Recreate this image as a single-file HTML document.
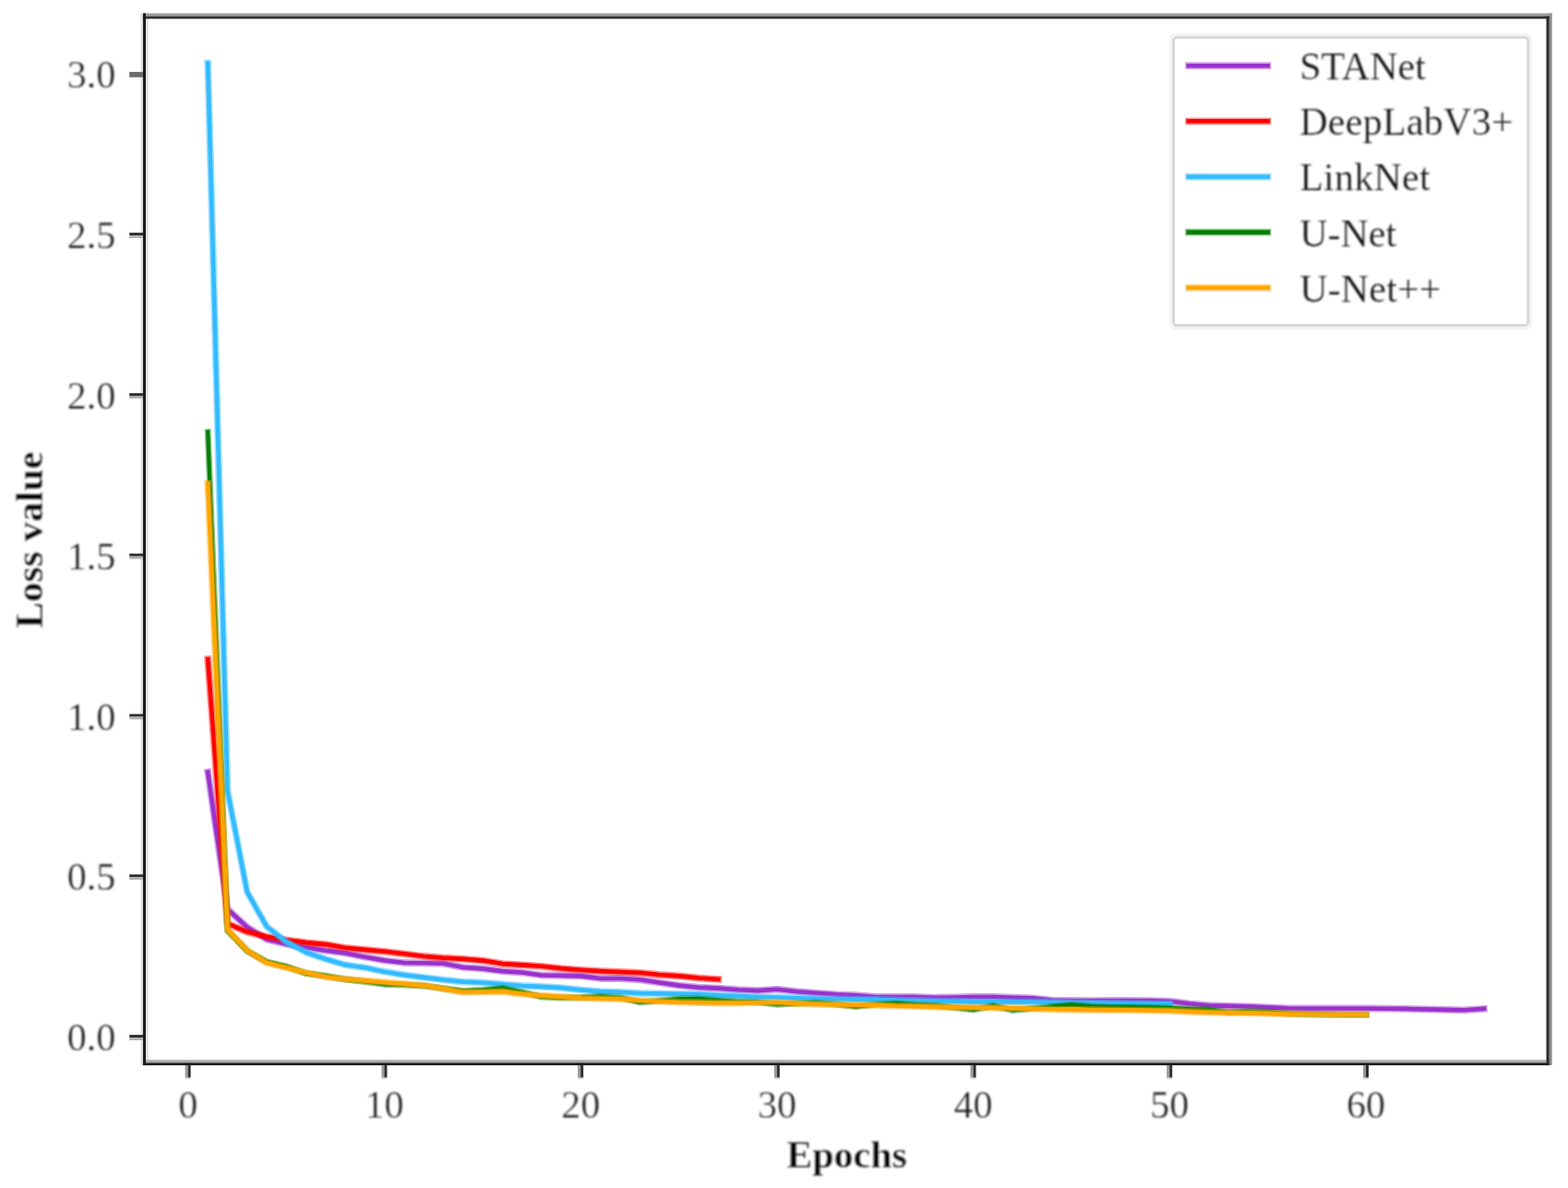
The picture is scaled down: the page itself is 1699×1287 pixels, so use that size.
<!DOCTYPE html>
<html lang="en">
<head>
<meta charset="utf-8">
<title>Loss value vs. Epochs</title>
<style>
html,body{margin:0;padding:0;background:#fff;}
body{width:1699px;height:1287px;overflow:hidden;}
svg{display:block;}
text{font-family:"Liberation Serif", "DejaVu Serif", serif;fill:#0e0e0e;font-kerning:normal;stroke:#fff;stroke-width:0.25px;}
.tick{font-size:42px;}
.lab{font-size:42px;font-weight:bold;fill:#000;stroke-width:0.3px;}
.leg{font-size:42px;fill:#0c0c0c;stroke-width:0.15px;}
</style>
</head>
<body>
<svg width="1699" height="1287" viewBox="0 0 1699 1287">
<defs>
<filter id="softt" filterUnits="userSpaceOnUse" x="0" y="0" width="1699" height="1287"><feGaussianBlur stdDeviation="1.0"/></filter>
</defs>
<rect x="0" y="0" width="1699" height="1287" fill="#ffffff"/>
<g fill="none" stroke-linejoin="round" stroke-linecap="square">
<polyline stroke="#9932cc" stroke-opacity="0.45" stroke-width="7.8" points="225.2,836.5 246.5,984.9 267.8,1004.4 289.0,1017.6 310.3,1022.8 331.6,1026.3 352.9,1029.7 374.1,1032.5 395.4,1036.7 416.7,1040.5 437.9,1043.0 459.2,1043.3 480.5,1043.8 501.8,1048.0 523.0,1049.4 544.3,1052.1 565.6,1053.5 586.8,1056.5 608.1,1056.9 629.4,1057.4 650.7,1060.0 671.9,1060.0 693.2,1061.3 714.5,1064.5 735.8,1067.6 757.0,1069.7 778.3,1070.6 799.6,1072.2 820.8,1073.1 842.1,1071.7 863.4,1074.2 884.7,1075.8 905.9,1077.4 927.2,1078.2 948.5,1080.0 969.7,1080.0 991.0,1080.0 1012.3,1080.8 1033.6,1080.5 1054.8,1080.0 1076.1,1080.0 1097.4,1080.7 1118.6,1081.4 1139.9,1083.6 1161.2,1084.0 1182.5,1084.1 1203.7,1084.0 1225.0,1084.0 1246.3,1084.1 1267.5,1084.7 1288.8,1087.3 1310.1,1089.2 1331.4,1089.9 1352.6,1090.3 1373.9,1091.4 1395.2,1092.3 1416.5,1092.5 1437.7,1092.5 1459.0,1092.5 1480.3,1092.5 1501.5,1092.7 1522.8,1092.9 1544.1,1093.4 1565.4,1093.9 1586.6,1094.3 1607.9,1092.8"/>
<polyline stroke="#9932cc" stroke-width="4.6" points="225.2,836.5 246.5,984.9 267.8,1004.4 289.0,1017.6 310.3,1022.8 331.6,1026.3 352.9,1029.7 374.1,1032.5 395.4,1036.7 416.7,1040.5 437.9,1043.0 459.2,1043.3 480.5,1043.8 501.8,1048.0 523.0,1049.4 544.3,1052.1 565.6,1053.5 586.8,1056.5 608.1,1056.9 629.4,1057.4 650.7,1060.0 671.9,1060.0 693.2,1061.3 714.5,1064.5 735.8,1067.6 757.0,1069.7 778.3,1070.6 799.6,1072.2 820.8,1073.1 842.1,1071.7 863.4,1074.2 884.7,1075.8 905.9,1077.4 927.2,1078.2 948.5,1080.0 969.7,1080.0 991.0,1080.0 1012.3,1080.8 1033.6,1080.5 1054.8,1080.0 1076.1,1080.0 1097.4,1080.7 1118.6,1081.4 1139.9,1083.6 1161.2,1084.0 1182.5,1084.1 1203.7,1084.0 1225.0,1084.0 1246.3,1084.1 1267.5,1084.7 1288.8,1087.3 1310.1,1089.2 1331.4,1089.9 1352.6,1090.3 1373.9,1091.4 1395.2,1092.3 1416.5,1092.5 1437.7,1092.5 1459.0,1092.5 1480.3,1092.5 1501.5,1092.7 1522.8,1092.9 1544.1,1093.4 1565.4,1093.9 1586.6,1094.3 1607.9,1092.8"/>
<polyline stroke="#ff0000" stroke-opacity="0.45" stroke-width="7.8" points="225.2,714.1 246.5,1000.5 267.8,1009.6 289.0,1014.8 310.3,1018.3 331.6,1021.1 352.9,1023.1 374.1,1026.8 395.4,1028.9 416.7,1030.8 437.9,1033.3 459.2,1036.0 480.5,1037.7 501.8,1038.9 523.0,1040.6 544.3,1044.1 565.6,1045.4 586.8,1046.8 608.1,1049.1 629.4,1050.8 650.7,1052.1 671.9,1053.0 693.2,1053.8 714.5,1056.0 735.8,1057.4 757.0,1059.5 778.3,1060.9"/>
<polyline stroke="#ff0000" stroke-width="4.6" points="225.2,714.1 246.5,1000.5 267.8,1009.6 289.0,1014.8 310.3,1018.3 331.6,1021.1 352.9,1023.1 374.1,1026.8 395.4,1028.9 416.7,1030.8 437.9,1033.3 459.2,1036.0 480.5,1037.7 501.8,1038.9 523.0,1040.6 544.3,1044.1 565.6,1045.4 586.8,1046.8 608.1,1049.1 629.4,1050.8 650.7,1052.1 671.9,1053.0 693.2,1053.8 714.5,1056.0 735.8,1057.4 757.0,1059.5 778.3,1060.9"/>
<polyline stroke="#33bbff" stroke-opacity="0.45" stroke-width="7.8" points="225.2,68.6 246.5,856.6 267.8,966.3 289.0,1003.7 310.3,1020.4 331.6,1031.8 352.9,1039.0 374.1,1045.2 395.4,1048.3 416.7,1052.7 437.9,1056.2 459.2,1058.9 480.5,1061.5 501.8,1063.6 523.0,1064.5 544.3,1066.2 565.6,1068.0 586.8,1068.9 608.1,1070.1 629.4,1072.4 650.7,1074.1 671.9,1074.9 693.2,1076.0 714.5,1076.4 735.8,1076.8 757.0,1077.1 778.3,1078.2 799.6,1079.1 820.8,1080.0 842.1,1080.5 863.4,1081.2 884.7,1081.7 905.9,1082.2 927.2,1082.6 948.5,1082.9 969.7,1083.5 991.0,1084.0 1012.3,1084.4 1033.6,1084.7 1054.8,1085.4 1076.1,1085.4 1097.4,1085.4 1118.6,1085.5 1139.9,1085.7 1161.2,1086.2 1182.5,1086.4 1203.7,1086.8 1225.0,1087.1 1246.3,1087.3 1267.5,1087.4"/>
<polyline stroke="#33bbff" stroke-width="4.6" points="225.2,68.6 246.5,856.6 267.8,966.3 289.0,1003.7 310.3,1020.4 331.6,1031.8 352.9,1039.0 374.1,1045.2 395.4,1048.3 416.7,1052.7 437.9,1056.2 459.2,1058.9 480.5,1061.5 501.8,1063.6 523.0,1064.5 544.3,1066.2 565.6,1068.0 586.8,1068.9 608.1,1070.1 629.4,1072.4 650.7,1074.1 671.9,1074.9 693.2,1076.0 714.5,1076.4 735.8,1076.8 757.0,1077.1 778.3,1078.2 799.6,1079.1 820.8,1080.0 842.1,1080.5 863.4,1081.2 884.7,1081.7 905.9,1082.2 927.2,1082.6 948.5,1082.9 969.7,1083.5 991.0,1084.0 1012.3,1084.4 1033.6,1084.7 1054.8,1085.4 1076.1,1085.4 1097.4,1085.4 1118.6,1085.5 1139.9,1085.7 1161.2,1086.2 1182.5,1086.4 1203.7,1086.8 1225.0,1087.1 1246.3,1087.3 1267.5,1087.4"/>
<polyline stroke="#008000" stroke-opacity="0.45" stroke-width="7.0" points="225.2,468.0 246.5,1008.2 267.8,1030.3 289.0,1041.8 310.3,1046.8 331.6,1054.6 352.9,1057.1 374.1,1061.0 395.4,1063.5 416.7,1066.4 437.9,1067.0 459.2,1067.9 480.5,1070.8 501.8,1073.4 523.0,1072.4 544.3,1070.3 565.6,1074.7 586.8,1080.0 608.1,1080.9 629.4,1080.5 650.7,1079.2 671.9,1080.7 693.2,1085.9 714.5,1084.0 735.8,1082.1 757.0,1081.8 778.3,1083.6 799.6,1085.1 820.8,1085.5 842.1,1088.2 863.4,1087.1 884.7,1086.2 905.9,1088.0 927.2,1090.6 948.5,1088.1 969.7,1086.9 991.0,1088.4 1012.3,1089.2 1033.6,1091.4 1054.8,1094.0 1076.1,1089.4 1097.4,1094.5 1118.6,1092.4 1139.9,1090.4 1161.2,1088.4 1182.5,1090.3 1203.7,1090.9 1225.0,1090.9 1246.3,1091.2 1267.5,1091.9 1288.8,1093.0 1310.1,1093.6 1331.4,1096.6 1352.6,1095.6 1373.9,1096.2 1395.2,1098.0 1416.5,1098.6 1437.7,1098.9 1459.0,1099.2 1480.3,1099.3"/>
<polyline stroke="#008000" stroke-width="4.1" points="225.2,468.0 246.5,1008.2 267.8,1030.3 289.0,1041.8 310.3,1046.8 331.6,1054.6 352.9,1057.1 374.1,1061.0 395.4,1063.5 416.7,1066.4 437.9,1067.0 459.2,1067.9 480.5,1070.8 501.8,1073.4 523.0,1072.4 544.3,1070.3 565.6,1074.7 586.8,1080.0 608.1,1080.9 629.4,1080.5 650.7,1079.2 671.9,1080.7 693.2,1085.9 714.5,1084.0 735.8,1082.1 757.0,1081.8 778.3,1083.6 799.6,1085.1 820.8,1085.5 842.1,1088.2 863.4,1087.1 884.7,1086.2 905.9,1088.0 927.2,1090.6 948.5,1088.1 969.7,1086.9 991.0,1088.4 1012.3,1089.2 1033.6,1091.4 1054.8,1094.0 1076.1,1089.4 1097.4,1094.5 1118.6,1092.4 1139.9,1090.4 1161.2,1088.4 1182.5,1090.3 1203.7,1090.9 1225.0,1090.9 1246.3,1091.2 1267.5,1091.9 1288.8,1093.0 1310.1,1093.6 1331.4,1096.6 1352.6,1095.6 1373.9,1096.2 1395.2,1098.0 1416.5,1098.6 1437.7,1098.9 1459.0,1099.2 1480.3,1099.3"/>
<polyline stroke="#ffa500" stroke-opacity="0.45" stroke-width="7.8" points="225.2,524.0 246.5,1007.2 267.8,1029.7 289.0,1043.0 310.3,1048.2 331.6,1053.7 352.9,1058.3 374.1,1060.7 395.4,1062.4 416.7,1064.2 437.9,1065.9 459.2,1067.6 480.5,1071.1 501.8,1074.9 523.0,1074.7 544.3,1074.1 565.6,1076.8 586.8,1078.6 608.1,1079.9 629.4,1081.2 650.7,1081.7 671.9,1082.1 693.2,1083.8 714.5,1084.7 735.8,1085.7 757.0,1086.1 778.3,1086.5 799.6,1086.5 820.8,1086.2 842.1,1085.8 863.4,1087.1 884.7,1087.9 905.9,1088.3 927.2,1088.8 948.5,1088.8 969.7,1089.7 991.0,1090.1 1012.3,1090.6 1033.6,1091.1 1054.8,1091.4 1076.1,1091.9 1097.4,1092.2 1118.6,1092.7 1139.9,1093.3 1161.2,1093.8 1182.5,1094.0 1203.7,1094.1 1225.0,1094.3 1246.3,1094.6 1267.5,1094.9 1288.8,1096.0 1310.1,1096.7 1331.4,1097.1 1352.6,1097.4 1373.9,1097.9 1395.2,1098.5 1416.5,1098.8 1437.7,1099.0 1459.0,1099.0 1480.3,1099.0"/>
<polyline stroke="#ffa500" stroke-width="4.6" points="225.2,524.0 246.5,1007.2 267.8,1029.7 289.0,1043.0 310.3,1048.2 331.6,1053.7 352.9,1058.3 374.1,1060.7 395.4,1062.4 416.7,1064.2 437.9,1065.9 459.2,1067.6 480.5,1071.1 501.8,1074.9 523.0,1074.7 544.3,1074.1 565.6,1076.8 586.8,1078.6 608.1,1079.9 629.4,1081.2 650.7,1081.7 671.9,1082.1 693.2,1083.8 714.5,1084.7 735.8,1085.7 757.0,1086.1 778.3,1086.5 799.6,1086.5 820.8,1086.2 842.1,1085.8 863.4,1087.1 884.7,1087.9 905.9,1088.3 927.2,1088.8 948.5,1088.8 969.7,1089.7 991.0,1090.1 1012.3,1090.6 1033.6,1091.1 1054.8,1091.4 1076.1,1091.9 1097.4,1092.2 1118.6,1092.7 1139.9,1093.3 1161.2,1093.8 1182.5,1094.0 1203.7,1094.1 1225.0,1094.3 1246.3,1094.6 1267.5,1094.9 1288.8,1096.0 1310.1,1096.7 1331.4,1097.1 1352.6,1097.4 1373.9,1097.9 1395.2,1098.5 1416.5,1098.8 1437.7,1099.0 1459.0,1099.0 1480.3,1099.0"/>
</g>
<g>
<rect x="152.2" y="14.4" width="2.7" height="1139.6" fill="#e4e4e4"/>
<rect x="158" y="20.4" width="3" height="1128" fill="#e4e4e4"/>
<rect x="1678.7" y="14.4" width="2.9" height="1139.6" fill="#8a8a8a"/>
<rect x="154.9" y="14.4" width="1526.7" height="3.1" fill="#9c9c9c"/>
<rect x="158" y="1148.2" width="1517.5" height="3.1" fill="#ababab"/>
<rect x="154.9" y="17.5" width="1523.8" height="2.9" fill="#303030"/>
<rect x="154.9" y="1151.3" width="1523.8" height="2.8" fill="#1c1c1c"/>
<rect x="154.9" y="14.4" width="3.1" height="1139.7" fill="#1c1c1c"/>
<rect x="1675.5" y="17.5" width="3.2" height="1136.6" fill="#2c2c2c"/>
</g>
<g>
<rect x="200.6" y="1154" width="3" height="13.5" fill="#9a9a9a"/>
<rect x="203.6" y="1154" width="3" height="13.5" fill="#2e2e2e"/>
<rect x="200.6" y="1167.5" width="6" height="1.6" fill="#d0d0d0"/>
<rect x="413.4" y="1154" width="3" height="13.5" fill="#9a9a9a"/>
<rect x="416.4" y="1154" width="3" height="13.5" fill="#2e2e2e"/>
<rect x="413.4" y="1167.5" width="6" height="1.6" fill="#d0d0d0"/>
<rect x="626.1" y="1154" width="3" height="13.5" fill="#9a9a9a"/>
<rect x="629.1" y="1154" width="3" height="13.5" fill="#2e2e2e"/>
<rect x="626.1" y="1167.5" width="6" height="1.6" fill="#d0d0d0"/>
<rect x="838.8" y="1154" width="3" height="13.5" fill="#9a9a9a"/>
<rect x="841.8" y="1154" width="3" height="13.5" fill="#2e2e2e"/>
<rect x="838.8" y="1167.5" width="6" height="1.6" fill="#d0d0d0"/>
<rect x="1051.5" y="1154" width="3" height="13.5" fill="#9a9a9a"/>
<rect x="1054.5" y="1154" width="3" height="13.5" fill="#2e2e2e"/>
<rect x="1051.5" y="1167.5" width="6" height="1.6" fill="#d0d0d0"/>
<rect x="1264.2" y="1154" width="3" height="13.5" fill="#9a9a9a"/>
<rect x="1267.2" y="1154" width="3" height="13.5" fill="#2e2e2e"/>
<rect x="1264.2" y="1167.5" width="6" height="1.6" fill="#d0d0d0"/>
<rect x="1477.0" y="1154" width="3" height="13.5" fill="#9a9a9a"/>
<rect x="1480.0" y="1154" width="3" height="13.5" fill="#2e2e2e"/>
<rect x="1477.0" y="1167.5" width="6" height="1.6" fill="#d0d0d0"/>
<rect x="140.2" y="1121.1" width="14.8" height="3" fill="#2e2e2e"/>
<rect x="140.2" y="1124.1" width="14.8" height="2.8" fill="#b0b0b0"/>
<rect x="140.2" y="947.3" width="14.8" height="3" fill="#2e2e2e"/>
<rect x="140.2" y="950.3" width="14.8" height="2.8" fill="#b0b0b0"/>
<rect x="140.2" y="773.5" width="14.8" height="3" fill="#2e2e2e"/>
<rect x="140.2" y="776.5" width="14.8" height="2.8" fill="#b0b0b0"/>
<rect x="140.2" y="599.7" width="14.8" height="3" fill="#2e2e2e"/>
<rect x="140.2" y="602.7" width="14.8" height="2.8" fill="#b0b0b0"/>
<rect x="140.2" y="425.9" width="14.8" height="3" fill="#2e2e2e"/>
<rect x="140.2" y="428.9" width="14.8" height="2.8" fill="#b0b0b0"/>
<rect x="140.2" y="252.1" width="14.8" height="3" fill="#2e2e2e"/>
<rect x="140.2" y="255.1" width="14.8" height="2.8" fill="#b0b0b0"/>
<rect x="140.2" y="77.9" width="14.8" height="5.8" fill="#6a6a6a"/>
</g>
<g filter="url(#softt)">
<text class="tick" x="203.8" y="1211.0" text-anchor="middle">0</text>
<text class="tick" x="416.5" y="1211.0" text-anchor="middle">10</text>
<text class="tick" x="629.2" y="1211.0" text-anchor="middle">20</text>
<text class="tick" x="841.9" y="1211.0" text-anchor="middle">30</text>
<text class="tick" x="1054.6" y="1211.0" text-anchor="middle">40</text>
<text class="tick" x="1267.3" y="1211.0" text-anchor="middle">50</text>
<text class="tick" x="1480.1" y="1211.0" text-anchor="middle">60</text>
<text class="tick" x="125.2" y="1138.2" text-anchor="end">0.0</text>
<text class="tick" x="125.2" y="964.4" text-anchor="end">0.5</text>
<text class="tick" x="125.2" y="790.6" text-anchor="end">1.0</text>
<text class="tick" x="125.2" y="616.8" text-anchor="end">1.5</text>
<text class="tick" x="125.2" y="443.0" text-anchor="end">2.0</text>
<text class="tick" x="125.2" y="269.2" text-anchor="end">2.5</text>
<text class="tick" x="125.2" y="95.4" text-anchor="end">3.0</text>
<text class="lab" x="917.6" y="1265.2" text-anchor="middle">Epochs</text>
<text class="lab" transform="translate(46.0,585.0) rotate(-90)" text-anchor="middle" textLength="191.4" lengthAdjust="spacingAndGlyphs">Loss value</text>
</g>
<rect x="1270" y="38.9" width="387.4" height="315" rx="3" ry="3" fill="#ffffff" fill-opacity="0.8"/>
<g fill="none">
<rect x="1268.7" y="37.3" width="390" height="318.2" rx="5" ry="5" stroke="#f4f4f4" stroke-width="3"/>
<rect x="1271.6" y="40.5" width="384.2" height="312.1" rx="3.5" ry="3.5" stroke="#d8d8d8" stroke-width="3"/>
</g>
<g stroke-linecap="butt">
<line x1="1284.2" y1="71.2" x2="1377.4" y2="71.2" stroke="#9932cc" stroke-opacity="0.45" stroke-width="7.8"/>
<line x1="1285.6" y1="71.2" x2="1376.0" y2="71.2" stroke="#9932cc" stroke-width="4.6"/>
<line x1="1284.2" y1="131.3" x2="1377.4" y2="131.3" stroke="#ff0000" stroke-opacity="0.45" stroke-width="7.8"/>
<line x1="1285.6" y1="131.3" x2="1376.0" y2="131.3" stroke="#ff0000" stroke-width="4.6"/>
<line x1="1284.2" y1="191.5" x2="1377.4" y2="191.5" stroke="#33bbff" stroke-opacity="0.45" stroke-width="7.8"/>
<line x1="1285.6" y1="191.5" x2="1376.0" y2="191.5" stroke="#33bbff" stroke-width="4.6"/>
<line x1="1284.2" y1="251.6" x2="1377.4" y2="251.6" stroke="#008000" stroke-opacity="0.45" stroke-width="7.8"/>
<line x1="1285.6" y1="251.6" x2="1376.0" y2="251.6" stroke="#008000" stroke-width="4.6"/>
<line x1="1284.2" y1="311.8" x2="1377.4" y2="311.8" stroke="#ffa500" stroke-opacity="0.45" stroke-width="7.8"/>
<line x1="1285.6" y1="311.8" x2="1376.0" y2="311.8" stroke="#ffa500" stroke-width="4.6"/>
</g>
<g filter="url(#softt)">
<text class="leg" x="1408.2" y="86.1">STANet</text>
<text class="leg" x="1408.2" y="146.2" textLength="231.5" lengthAdjust="spacing">DeepLabV3+</text>
<text class="leg" x="1408.2" y="206.4" textLength="141.4" lengthAdjust="spacing">LinkNet</text>
<text class="leg" x="1408.2" y="266.6">U-Net</text>
<text class="leg" x="1408.2" y="326.7" textLength="153.3" lengthAdjust="spacing">U-Net++</text>
</g>
</svg>
</body>
</html>
